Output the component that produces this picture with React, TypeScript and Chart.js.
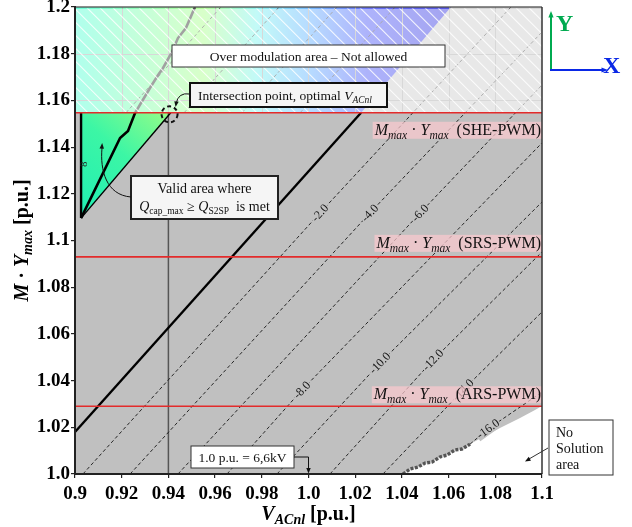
import React, { useEffect, useRef } from "react";
import { Chart, registerables } from "chart.js";

Chart.register(...registerables);

const SERIF = "'Liberation Serif', 'Times New Roman', Times, serif";

// ---- axes ----
const X_MIN = 0.9;
const X_MAX = 1.1;
const Y_MIN = 1.0;
const Y_MAX = 1.2;
const xTickValues = [0.9, 0.92, 0.94, 0.96, 0.98, 1.0, 1.02, 1.04, 1.06, 1.08, 1.1];
const xTickLabels = ["0.9", "0.92", "0.94", "0.96", "0.98", "1.0", "1.02", "1.04", "1.06", "1.08", "1.1"];
const yTickValues = [1.0, 1.02, 1.04, 1.06, 1.08, 1.1, 1.12, 1.14, 1.16, 1.18, 1.2];
const yTickLabels = ["1.0", "1.02", "1.04", "1.06", "1.08", "1.1", "1.12", "1.14", "1.16", "1.18", "1.2"];

// ---- modulation limits M_max · Y_max ----
const limitNames = ["SHE-PWM", "SRS-PWM", "ARS-PWM"];
const limitValues = [1.1547, 1.093, 1.029];

// ---- contour lines of Q_cap_max - Q_S2SP (negative levels) ----
const negLevels = ["-2.0", "-4.0", "-6.0", "-8.0", "-10.0", "-12.0", "-14.0"];
const negContourX = [
  [0.9034, 1.0049, 1.0867],
  [0.9236, 1.0263, 1.1],
  [0.9441, 1.0478, 1.1],
  [0.9651, 0.9972, 1.1],
  [0.9865, 1.0306, 1.1],
  [1.0092, 1.0533, 1.1],
  [1.0319, 1.0662, 1.1],
];
const negContourY = [
  [1.0, 1.1118, 1.2],
  [1.0, 1.1118, 1.1893],
  [1.0, 1.1118, 1.1666],
  [1.0, 1.036, 1.1418],
  [1.0, 1.0475, 1.1165],
  [1.0, 1.0488, 1.0951],
  [1.0, 1.036, 1.0694],
];

// -16 contour (runs along the no-solution border)
const level16 = "-16.0";
const contour16X = [1.0405, 1.0435, 1.0469, 1.0499, 1.0529, 1.0563, 1.0593, 1.0627, 1.0657, 1.0692, 1.0769, 1.1];
const contour16Y = [1.0, 1.0021, 1.003, 1.0047, 1.0051, 1.0073, 1.0081, 1.0103, 1.0107, 1.0128, 1.0193, 1.0351];

// border of the no-solution area
const noSolX = [1.0405, 1.0435, 1.0469, 1.0499, 1.0529, 1.0563, 1.0593, 1.0627, 1.0657, 1.0692, 1.082, 1.0906, 1.097, 1.1];
const noSolY = [1.0, 1.0021, 1.003, 1.0047, 1.0051, 1.0073, 1.0081, 1.0103, 1.0107, 1.0128, 1.0197, 1.024, 1.0274, 1.0291];

// positive contour levels inside the over-modulation band
const posContourX = [
  [0.9218, 0.9625],
  [0.9467, 0.9874],
  [0.9715, 1.0122],
  [0.9964, 1.0371],
];
const posContourY = [
  [1.1547, 1.2],
  [1.1547, 1.2],
  [1.1547, 1.2],
  [1.1547, 1.2],
];

// zero contour (Q_cap_max = Q_S2SP)
const zeroX = [0.9, 1.0225];
const zeroY = [1.018, 1.1547];

// coloured part of the over-modulation band (left of the zero contour)
const bandColorX = [0.9, 1.0225, 1.061, 0.9];
const bandColorY = [1.1547, 1.1547, 1.2, 1.2];

// valid area triangle: top-left, bottom vertex, top-right
const validX = [0.9026, 0.9026, 0.941];
const validY = [1.1547, 1.1096, 1.1547];

// optimum contour inside the valid area, continuing into the band
const optX = [0.9026, 0.9193, 0.9227, 0.9257, 0.9321, 0.9356, 0.9377, 0.9415, 0.9441, 0.9475, 0.9514];
const optY = [1.1096, 1.1439, 1.1469, 1.1546, 1.1653, 1.1709, 1.1739, 1.1807, 1.1867, 1.191, 1.2];

// optimal V_ACnl
const optimalV = 0.94;
const intersectX = 0.9405;
const nominalV = 1.0;

// ---- styles ----
const GREY = "#c0c0c0";
const RED = "#e32b2b";
const OVERLAY = "rgba(255,255,255,0.63)";
const BAND_STOPS: [number, string][] = [
  [0.9, "rgb(40,255,205)"],
  [0.93, "rgb(100,255,150)"],
  [0.955, "rgb(150,255,110)"],
  [0.978, "rgb(90,240,235)"],
  [1.0, "rgb(60,160,255)"],
  [1.025, "rgb(35,50,245)"],
  [1.06, "rgb(10,10,215)"],
];
const TRI_STOPS: [number, string][] = [
  [0, "rgb(32,238,180)"],
  [0.55, "rgb(60,246,165)"],
  [1, "rgb(150,252,135)"],
];
const LIMIT_LABEL_DY = [9, -22, -20];

type Seg = { t: string; size: number; italic?: boolean; bold?: boolean; dy?: number };

const fontOf = (s: Seg) => `${s.italic ? "italic " : ""}${s.bold ? "bold " : ""}${s.size}px ${SERIF}`;

function richWidth(ctx: CanvasRenderingContext2D, segs: Seg[]) {
  let w = 0;
  for (const s of segs) {
    ctx.font = fontOf(s);
    w += ctx.measureText(s.t).width;
  }
  return w;
}

function drawRich(ctx: CanvasRenderingContext2D, segs: Seg[], x: number, y: number, align: "left" | "center" | "right") {
  const w = richWidth(ctx, segs);
  let cx = align === "left" ? x : align === "center" ? x - w / 2 : x - w;
  ctx.textAlign = "left";
  ctx.textBaseline = "alphabetic";
  for (const s of segs) {
    ctx.font = fontOf(s);
    ctx.fillText(s.t, cx, y + (s.dy || 0));
    cx += ctx.measureText(s.t).width;
  }
  return w;
}

function arrowHead(ctx: CanvasRenderingContext2D, x: number, y: number, ang: number, size: number) {
  ctx.beginPath();
  ctx.moveTo(x, y);
  ctx.lineTo(x - size * Math.cos(ang - 0.38), y - size * Math.sin(ang - 0.38));
  ctx.lineTo(x - size * Math.cos(ang + 0.38), y - size * Math.sin(ang + 0.38));
  ctx.closePath();
  ctx.fill();
}

function box(ctx: CanvasRenderingContext2D, x: number, y: number, w: number, h: number, fill: string, stroke: string, lw: number) {
  ctx.fillStyle = fill;
  ctx.fillRect(x, y, w, h);
  ctx.strokeStyle = stroke;
  ctx.lineWidth = lw;
  ctx.setLineDash([]);
  ctx.strokeRect(x, y, w, h);
}

const PX = (c: Chart, v: number) => c.scales.x.getPixelForValue(v);
const PY = (c: Chart, v: number) => c.scales.y.getPixelForValue(v);

function polyPath(c: Chart, ctx: CanvasRenderingContext2D, xs: number[], ys: number[]) {
  ctx.beginPath();
  xs.forEach((x, i) => {
    const X = PX(c, x);
    const Y = PY(c, ys[i]);
    if (i === 0) ctx.moveTo(X, Y);
    else ctx.lineTo(X, Y);
  });
}

const pts = (xs: number[], ys: number[]) => xs.map((x, i) => ({ x, y: ys[i] }));

const lineSet = (xs: number[], ys: number[], color: string, width: number, dash: number[] = [], order = 1) => ({
  data: pts(xs, ys),
  showLine: true,
  pointRadius: 0,
  borderColor: color,
  borderWidth: width,
  borderDash: dash,
  fill: false,
  tension: 0,
  order,
});

// fills drawn under the lines
const fillsPlugin = {
  id: "fills",
  beforeDatasetsDraw(chart: any) {
    const { ctx, chartArea: a } = chart;
    chart.$bandDone = false;
    ctx.save();
    ctx.beginPath();
    ctx.rect(a.left, a.top, a.width, a.height);
    ctx.clip();
    ctx.fillStyle = GREY;
    ctx.fillRect(a.left, a.top, a.width, a.height);

    // coloured surface inside the over-modulation band
    const g0 = PX(chart, BAND_STOPS[0][0]);
    const g1 = PX(chart, BAND_STOPS[BAND_STOPS.length - 1][0]);
    const grad = ctx.createLinearGradient(g0, 0, g1, 0);
    BAND_STOPS.forEach(([v, col]) => grad.addColorStop((PX(chart, v) - g0) / (g1 - g0), col));
    polyPath(chart, ctx, bandColorX, bandColorY);
    ctx.closePath();
    ctx.fillStyle = grad;
    ctx.fill();

    // grid visible inside the band
    const bandBottom = PY(chart, limitValues[0]);
    ctx.strokeStyle = "rgb(150,150,150)";
    ctx.lineWidth = 1;
    xTickValues.slice(1, -1).forEach((v) => {
      const X = Math.round(PX(chart, v)) + 0.5;
      ctx.beginPath();
      ctx.moveTo(X, a.top);
      ctx.lineTo(X, bandBottom);
      ctx.stroke();
    });
    yTickValues.forEach((v) => {
      const Y = PY(chart, v);
      if (Y > a.top + 1 && Y < bandBottom - 1) {
        ctx.beginPath();
        ctx.moveTo(a.left, Math.round(Y) + 0.5);
        ctx.lineTo(a.right, Math.round(Y) + 0.5);
        ctx.stroke();
      }
    });

    // valid-area triangle
    const t0x = PX(chart, validX[1]);
    const t0y = PY(chart, validY[1]);
    const t1x = PX(chart, validX[2]);
    const t1y = PY(chart, validY[2]);
    const tg = ctx.createLinearGradient(t0x, t0y, t1x, t1y);
    TRI_STOPS.forEach(([p, col]) => tg.addColorStop(p, col));
    polyPath(chart, ctx, validX, validY);
    ctx.closePath();
    ctx.fillStyle = tg;
    ctx.fill();

    // no-solution area
    polyPath(chart, ctx, [...noSolX, X_MAX], [...noSolY, Y_MIN]);
    ctx.closePath();
    ctx.fillStyle = "#ffffff";
    ctx.fill();
    ctx.restore();
  },
  beforeDatasetDraw(chart: any, args: any) {
    if (args.meta.order !== 0 || chart.$bandDone) return;
    chart.$bandDone = true;
    const { ctx, chartArea: a } = chart;
    const bandBottom = PY(chart, limitValues[0]);
    ctx.save();
    ctx.beginPath();
    ctx.rect(a.left, a.top + 1.5, a.width, bandBottom - a.top - 1.5);
    ctx.clip();
    ctx.fillStyle = OVERLAY;
    ctx.fillRect(a.left, a.top, a.width, bandBottom - a.top);
    // hatching of the not-allowed band
    const h = bandBottom - a.top;
    ctx.strokeStyle = "rgba(255,255,255,0.85)";
    ctx.lineWidth = 1.1;
    for (let x0 = a.left - h; x0 < a.right; x0 += 13) {
      ctx.beginPath();
      ctx.moveTo(x0, a.top);
      ctx.lineTo(x0 + h, bandBottom);
      ctx.stroke();
    }
    ctx.restore();
  },
  afterDatasetsDraw(chart: any) {
    const { ctx, chartArea: a } = chart;
    ctx.save();
    ctx.beginPath();
    ctx.rect(a.left, a.top, a.width, a.height);
    ctx.clip();

    // contour labels along their lines
    const drawLabel = (text: string, xs: number[], ys: number[], i: number) => {
      const x = PX(chart, xs[i]);
      const y = PY(chart, ys[i]);
      const dx = PX(chart, xs[i + 1]) - PX(chart, xs[i - 1]);
      const dy = PY(chart, ys[i + 1]) - PY(chart, ys[i - 1]);
      const ang = Math.atan2(dy, dx);
      ctx.save();
      ctx.translate(x, y);
      ctx.rotate(ang);
      ctx.font = `12px ${SERIF}`;
      const w = ctx.measureText(text).width;
      ctx.fillStyle = GREY;
      ctx.fillRect(-w / 2 - 1, -5.5, w + 2, 11);
      ctx.fillStyle = "#151515";
      ctx.textAlign = "center";
      ctx.textBaseline = "middle";
      ctx.fillText(text, 0, 0.5);
      ctx.restore();
    };
    negLevels.forEach((lv, k) => drawLabel(lv, negContourX[k], negContourY[k], 1));
    drawLabel(level16, contour16X, contour16Y, 10);

    // small contour label near the left edge of the valid area
    ctx.save();
    ctx.translate(PX(chart, validX[0]) + 3, PY(chart, 1.1327));
    ctx.rotate(-Math.PI / 2);
    ctx.font = `11px ${SERIF}`;
    ctx.fillStyle = "#222";
    ctx.textAlign = "center";
    ctx.textBaseline = "middle";
    ctx.fillText("8", 0, 0);
    ctx.restore();

    // modulation-limit labels
    limitNames.forEach((name, k) => {
      const ly = PY(chart, limitValues[k]);
      const segs: Seg[] = [
        { t: "M", size: 16, italic: true },
        { t: "max", size: 11.5, italic: true, dy: 4 },
        { t: " · ", size: 16 },
        { t: "Y", size: 16, italic: true },
        { t: "max", size: 11.5, italic: true, dy: 4 },
        { t: "  (" + name + ")", size: 16 },
      ];
      const w = richWidth(ctx, segs);
      const top = ly + LIMIT_LABEL_DY[k];
      ctx.fillStyle = "rgba(250,200,205,0.72)";
      ctx.fillRect(a.right - w - 3, top, w + 3, 17);
      ctx.fillStyle = "#111";
      drawRich(ctx, segs, a.right - 1, top + 13, "right");
    });
    ctx.restore();

    // frame top/right
    ctx.save();
    ctx.strokeStyle = "#666";
    ctx.lineWidth = 1.5;
    ctx.beginPath();
    ctx.moveTo(a.left, a.top);
    ctx.lineTo(a.right, a.top);
    ctx.stroke();
    ctx.strokeStyle = "#333";
    ctx.beginPath();
    ctx.moveTo(a.right, a.top);
    ctx.lineTo(a.right, a.bottom);
    ctx.stroke();
    ctx.restore();
  },
};

// text boxes, arrows, axis titles
const annotationPlugin = {
  id: "annotations",
  afterDraw(chart: any) {
    const { ctx, chartArea: a } = chart;
    ctx.save();
    ctx.setLineDash([]);

    // over-modulation note
    box(ctx, 172, 45, 273, 22, "#ffffff", "#333", 1);
    ctx.fillStyle = "#111";
    drawRich(ctx, [{ t: "Over modulation area – Not allowed", size: 13.5 }], 308.5, 60.5, "center");

    // intersection point note
    box(ctx, 190, 83, 197, 24, "#f5f5f5", "#111", 2);
    ctx.fillStyle = "#111";
    drawRich(
      ctx,
      [
        { t: "Intersection point, optimal ", size: 13.5 },
        { t: "V", size: 13.5, italic: true },
        { t: "ACnl", size: 9.5, italic: true, dy: 3 },
      ],
      198,
      99.5,
      "left"
    );
    const cx = PX(chart, intersectX);
    const cy = PY(chart, limitValues[0]);
    ctx.strokeStyle = "#111";
    ctx.lineWidth = 1;
    ctx.beginPath();
    ctx.moveTo(190, 94);
    ctx.quadraticCurveTo(178, 92, 176, 104);
    ctx.stroke();
    ctx.fillStyle = "#111";
    arrowHead(ctx, 175.6, 107, Math.atan2(12, -2), 6);
    ctx.lineWidth = 2;
    ctx.setLineDash([4, 3]);
    ctx.beginPath();
    ctx.arc(cx, cy + 1.5, 8, 0, Math.PI * 2);
    ctx.stroke();
    ctx.setLineDash([]);

    // valid area note
    box(ctx, 131, 176, 147, 43, "#f5f5f5", "#222", 2);
    ctx.fillStyle = "#111";
    drawRich(ctx, [{ t: "Valid area where", size: 14 }], 204.5, 193, "center");
    drawRich(
      ctx,
      [
        { t: "Q", size: 14, italic: true },
        { t: "cap_max", size: 9.5, dy: 3 },
        { t: " ≥ ", size: 14 },
        { t: "Q", size: 14, italic: true },
        { t: "S2SP", size: 9.5, dy: 3 },
        { t: "  is met", size: 14 },
      ],
      204.5,
      211,
      "center"
    );
    ctx.strokeStyle = "#111";
    ctx.lineWidth = 1;
    ctx.beginPath();
    ctx.moveTo(131, 197);
    ctx.bezierCurveTo(106, 195, 100, 170, 102, 148);
    ctx.stroke();
    arrowHead(ctx, 102.2, 143, Math.atan2(-25, 2), 6);

    // nominal voltage note
    const nx = PX(chart, nominalV);
    box(ctx, 191, 446, 103, 22, "#ffffff", "#333", 1);
    ctx.fillStyle = "#111";
    drawRich(ctx, [{ t: "1.0 p.u. = 6,6kV", size: 13.5 }], 242.5, 461.5, "center");
    ctx.strokeStyle = "#111";
    ctx.lineWidth = 1;
    ctx.beginPath();
    ctx.moveTo(294, 457);
    ctx.lineTo(nx, 457);
    ctx.lineTo(nx, a.bottom - 5);
    ctx.stroke();
    arrowHead(ctx, nx, a.bottom - 0.5, Math.PI / 2, 6);

    // no-solution note
    box(ctx, 549, 420, 64, 55, "#ffffff", "#333", 1);
    ctx.fillStyle = "#111";
    drawRich(ctx, [{ t: "No", size: 14 }], 556, 437, "left");
    drawRich(ctx, [{ t: "Solution", size: 14 }], 556, 453, "left");
    drawRich(ctx, [{ t: "area", size: 14 }], 556, 469, "left");
    ctx.beginPath();
    ctx.moveTo(548, 448);
    ctx.lineTo(529, 459);
    ctx.stroke();
    arrowHead(ctx, 525, 461.5, Math.atan2(12, -21), 6);

    // axis titles
    ctx.fillStyle = "#000";
    drawRich(
      ctx,
      [
        { t: "V", size: 20, bold: true, italic: true },
        { t: "ACnl", size: 14, bold: true, italic: true, dy: 4 },
        { t: " [p.u.]", size: 20, bold: true },
      ],
      (a.left + a.right) / 2,
      520,
      "center"
    );
    ctx.save();
    ctx.translate(28, (a.top + a.bottom) / 2);
    ctx.rotate(-Math.PI / 2);
    drawRich(
      ctx,
      [
        { t: "M", size: 20, bold: true, italic: true },
        { t: " · ", size: 20, bold: true },
        { t: "Y", size: 20, bold: true, italic: true },
        { t: "max", size: 14, bold: true, italic: true, dy: 4 },
        { t: " [p.u.]", size: 20, bold: true },
      ],
      0,
      0,
      "center"
    );
    ctx.restore();

    // X / Y orientation sketch
    const gC = "rgb(0,170,80)";
    const bC = "rgb(10,40,230)";
    ctx.lineWidth = 2;
    ctx.strokeStyle = gC;
    ctx.fillStyle = gC;
    ctx.beginPath();
    ctx.moveTo(551, 70);
    ctx.lineTo(551, 16);
    ctx.stroke();
    arrowHead(ctx, 551, 11, -Math.PI / 2, 7);
    drawRich(ctx, [{ t: "Y", size: 24, bold: true }], 556, 31, "left");
    ctx.strokeStyle = bC;
    ctx.fillStyle = bC;
    ctx.beginPath();
    ctx.moveTo(550, 70);
    ctx.lineTo(603, 70);
    ctx.stroke();
    arrowHead(ctx, 608, 70, 0, 7);
    drawRich(ctx, [{ t: "X", size: 24, bold: true }], 603, 73, "left");
    ctx.restore();
  },
};

export default function App() {
  const ref = useRef<HTMLCanvasElement>(null);

  useEffect(() => {
    const canvas = ref.current;
    if (!canvas) return;

    const datasets: any[] = [];
    negContourX.forEach((xs, k) => datasets.push(lineSet(xs, negContourY[k], "#151515", 0.9, [3.5, 2.5])));
    posContourX.forEach((xs, k) => datasets.push(lineSet(xs, posContourY[k], "#151515", 0.9, [3.5, 2.5])));
    // -16 contour: wavy double line along the border, then single dashed line
    datasets.push(lineSet(contour16X.slice(0, 10), contour16Y.slice(0, 10), "#555", 3.4, [3, 1.5]));
    datasets.push(lineSet(contour16X.slice(0, 10), contour16Y.slice(0, 10), "#cfcfcf", 1.3));
    datasets.push(lineSet(contour16X.slice(9), contour16Y.slice(9), "#151515", 0.9, [3.5, 2.5]));
    datasets.push(lineSet(zeroX, zeroY, "#000", 2.4));
    datasets.push(lineSet(validX.slice(0, 2), validY.slice(0, 2), "#000", 2.4));
    datasets.push(lineSet(validX.slice(1), validY.slice(1), "#000", 1.4));
    datasets.push(lineSet(optX, optY, "#000", 2.6));
    datasets.push(lineSet([optimalV, optimalV], [Y_MIN, limitValues[0]], "#555", 1.5));
    limitValues.forEach((v) => datasets.push(lineSet([X_MIN, X_MAX], [v, v], RED, 1.6, [], 0)));

    const tickFont = { family: SERIF, size: 19, weight: "bold" as const };

    const chart = new Chart(canvas, {
      type: "scatter",
      data: { datasets },
      options: {
        responsive: false,
        devicePixelRatio: 1,
        animation: false,
        events: [],
        layout: { padding: { top: 7, right: 90, bottom: 0, left: 0 } },
        plugins: { legend: { display: false }, tooltip: { enabled: false } },
        scales: {
          x: {
            type: "linear",
            min: X_MIN,
            max: X_MAX,
            z: 1,
            afterBuildTicks: (s: any) => {
              s.ticks = xTickValues.map((v) => ({ value: v }));
            },
            afterFit: (s: any) => {
              s.height = 53;
              s.paddingLeft = 0;
              s.paddingRight = 0;
            },
            ticks: {
              autoSkip: false,
              maxRotation: 0,
              padding: 5,
              color: "#000",
              font: tickFont,
              callback: (v: any) => {
                const i = xTickValues.findIndex((t) => Math.abs(t - Number(v)) < 1e-9);
                return i >= 0 ? xTickLabels[i] : "";
              },
            },
            grid: { drawOnChartArea: false, tickLength: 4, color: "#222", lineWidth: 1.2 },
            border: { display: true, color: "#222", width: 2, z: 2 },
          },
          y: {
            type: "linear",
            min: Y_MIN,
            max: Y_MAX,
            z: 1,
            afterBuildTicks: (s: any) => {
              s.ticks = yTickValues.map((v) => ({ value: v }));
            },
            afterFit: (s: any) => {
              s.width = 75;
              s.paddingTop = 0;
              s.paddingBottom = 0;
            },
            ticks: {
              autoSkip: false,
              padding: 1,
              color: "#000",
              font: tickFont,
              callback: (v: any) => {
                const i = yTickValues.findIndex((t) => Math.abs(t - Number(v)) < 1e-9);
                return i >= 0 ? yTickLabels[i] : "";
              },
            },
            grid: { drawOnChartArea: false, tickLength: 4, color: "#222", lineWidth: 1.2 },
            border: { display: true, color: "#222", width: 2, z: 2 },
          },
        },
      },
      plugins: [fillsPlugin, annotationPlugin],
    } as any);

    return () => chart.destroy();
  }, []);

  return (
    <div style={{ position: "absolute", left: 0, top: 0, width: 632, height: 527, background: "#fff" }}>
      <canvas ref={ref} width={632} height={527} style={{ display: "block", width: 632, height: 527 }} />
    </div>
  );
}
